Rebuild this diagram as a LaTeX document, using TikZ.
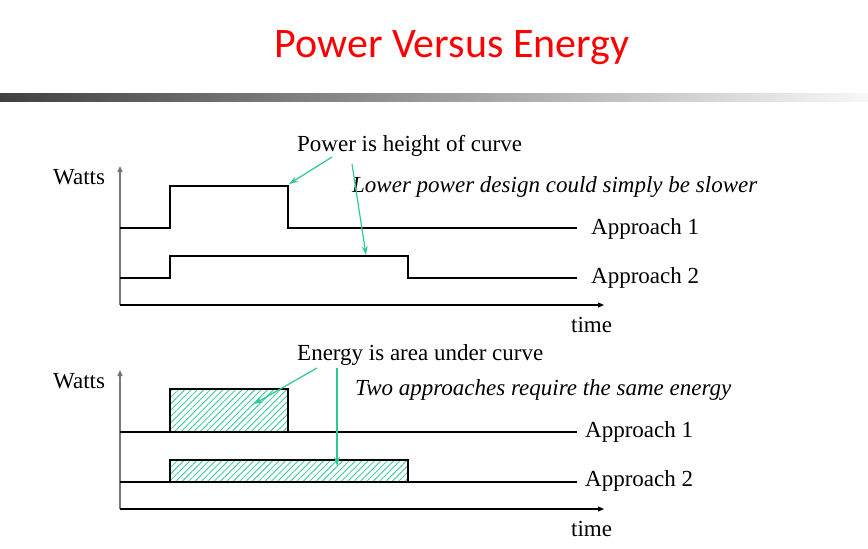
\documentclass[tikz,border=0pt]{standalone}
\usepackage{fontspec}
\setmainfont{Liberation Serif}
\newfontfamily\titlefont{Carlito}
\usetikzlibrary{arrows.meta,patterns.meta}
\definecolor{grn}{RGB}{45,200,150}
\definecolor{axgray}{RGB}{120,120,120}
\definecolor{bardark}{RGB}{64,64,64}
\tikzset{
  lbl/.style={anchor=base west,inner sep=0pt,font=\fontsize{23}{26}\selectfont},
  ilbl/.style={lbl,font=\fontsize{23}{26}\selectfont\itshape},
  axis/.style={draw=axgray,line width=1.4pt},
  axarrow/.style={axis,-{Triangle[length=6pt,width=5pt,fill=black]}},
  taxarrow/.style={draw=black,line width=1.2pt,-{Triangle[length=6pt,width=5pt]}},
  curve/.style={draw=black,line width=1.2pt},
  callout/.style={draw=grn,line width=1.2pt,-{Stealth[length=9pt,width=6pt]}},
  hatch/.style={curve,pattern={Lines[angle=45,distance=4.5pt,line width=0.8pt]},pattern color=grn}
}
\begin{document}
\begin{tikzpicture}[x=1pt,y=-1pt]
\useasboundingbox (0,0) rectangle (868,549);
% title
\node[anchor=base,inner sep=0pt,text=red,font=\titlefont\fontsize{42}{48}\selectfont] (title) at (452,57) {Power Versus Energy};
\shade[left color=bardark,right color=white!97!black] (0,93) rectangle (868,101);

% ---------- top diagram ----------
\node[lbl] (w1) at (53,184) {Watts};
\coordinate (o1) at (120,305);
\coordinate (y1) at (120,166);
\coordinate (x1) at (604,305);
\draw[axarrow] (o1) -- (y1);
\draw[taxarrow] (o1) -- (x1);
\node[lbl] (t1) at (571,332) {time};
\draw[curve] (120,228) -- (170,228) -- (170,186) -- (288,186) -- (288,228) -- (577,228);
\draw[curve] (120,278) -- (170,278) -- (170,256) -- (408,256) -- (408,278) -- (577,278);
\node[lbl] (a11) at (591,234) {Approach 1};
\node[lbl] (a12) at (591,283) {Approach 2};
\node[lbl] (pw) at (297,151) {Power is height of curve};
\node[ilbl] (lp) at (352,192) {Lower power design could simply be slower};
\coordinate (pwA) at (332,157);
\coordinate (pwB) at (352,164);
\coordinate (h1) at (289,184);
\coordinate (h2) at (366,255);
\draw[callout] (pwA) -- (h1);
\draw[callout] (pwB) -- (h2);

% ---------- bottom diagram ----------
\node[lbl] (w2) at (53,388) {Watts};
\coordinate (o2) at (120,509);
\coordinate (y2) at (120,370);
\coordinate (x2) at (604,509);
\draw[axarrow] (o2) -- (y2);
\draw[taxarrow] (o2) -- (x2);
\node[lbl] (t2) at (571,536) {time};
\draw[hatch] (170,432) rectangle (288,389);
\draw[hatch] (170,482) rectangle (408,460);
\draw[draw=black,line width=2pt] (120,432) -- (577,432);
\draw[curve] (120,482) -- (577,482);
\node[lbl] (a21) at (585,437) {Approach 1};
\node[lbl] (a22) at (585,486) {Approach 2};
\node[lbl] (en) at (297,360) {Energy is area under curve};
\node[ilbl] (ta) at (355,395) {Two approaches require the same energy};
\coordinate (enA) at (317,368);
\coordinate (enB) at (337,368);
\coordinate (e1) at (254,404);
\coordinate (e2) at (337,466);
\draw[callout] (enA) -- (e1);
\draw[callout] (enB) -- (e2);
\end{tikzpicture}
\end{document}
